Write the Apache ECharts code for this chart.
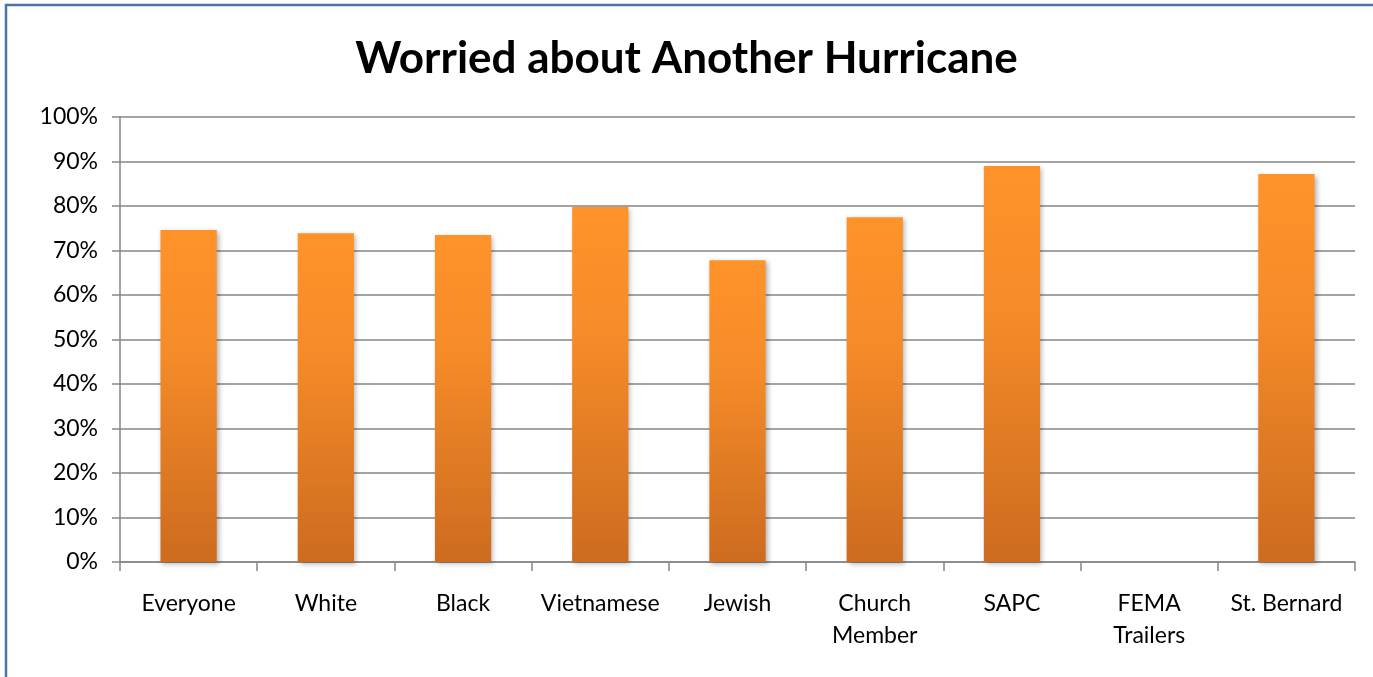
<!DOCTYPE html>
<html>
<head>
<meta charset="utf-8">
<style>
html,body{margin:0;padding:0;background:#fff;}
#c{width:1373px;height:677px;}
</style>
<script src="https://cdn.jsdelivr.net/npm/echarts@6/dist/echarts.min.js"></script>
</head>
<body>
<div id="c"></div>
<script>
const title = 'Worried about Another Hurricane';
const categories = ['Everyone', 'White', 'Black', 'Vietnamese', 'Jewish', 'Church\nMember', 'SAPC', 'FEMA\nTrailers', 'St. Bernard'];
const values = [0.746, 0.739, 0.735, 0.798, 0.678, 0.775, 0.890, 0, 0.872];
const yTicks = [0, 0.1, 0.2, 0.3, 0.4, 0.5, 0.6, 0.7, 0.8, 0.9, 1.0];

const FONT = 'Lato, "Open Sans", sans-serif';
const chart = echarts.init(document.getElementById('c'), null, {renderer: 'canvas'});
chart.setOption({
  animation: false,
  backgroundColor: '#ffffff',
  graphic: [{
    type: 'rect',
    shape: {x: 6, y: 5, width: 1400, height: 700},
    style: {fill: 'none', stroke: '#4a76a8', lineWidth: 2.5},
    silent: true, z: 100
  }],
  title: {
    text: title,
    left: 'center',
    top: 32,
    textStyle: {fontFamily: FONT, fontWeight: 'bold', fontSize: 44, color: '#000'}
  },
  grid: {left: 120, right: 18, top: 117, bottom: 115, containLabel: false},
  xAxis: {
    type: 'category',
    data: categories,
    axisLine: {show: true, lineStyle: {color: '#868686', width: 1.5}},
    axisTick: {show: true, alignWithLabel: false, length: 9, lineStyle: {color: '#868686', width: 1.5}},
    axisLabel: {fontFamily: FONT, fontSize: 23, color: '#000', margin: 26, lineHeight: 32, interval: 0},
    splitLine: {show: false}
  },
  yAxis: {
    type: 'value',
    min: 0, max: 1, interval: 0.1,
    axisLine: {show: true, lineStyle: {color: '#868686', width: 1.5}},
    axisTick: {show: true, length: 8, lineStyle: {color: '#868686', width: 1.5}},
    axisLabel: {
      fontFamily: FONT, fontSize: 23, color: '#000', margin: 22,
      formatter: v => Math.round(v * 100) + '%'
    },
    splitLine: {show: true, lineStyle: {color: '#868686', width: 1.5}}
  },
  series: [{
    type: 'bar',
    data: values,
    barWidth: '41%',
    itemStyle: {
      color: new echarts.graphic.LinearGradient(0, 0, 0, 1, [
        {offset: 0, color: '#ff932a'},
        {offset: 0.35, color: '#f68c29'},
        {offset: 1, color: '#cd6b1f'}
      ], false),
      shadowColor: 'rgba(0,0,0,0.3)',
      shadowBlur: 5,
      shadowOffsetX: 2,
      shadowOffsetY: 2
    }
  }]
});
</script>
</body>
</html>
